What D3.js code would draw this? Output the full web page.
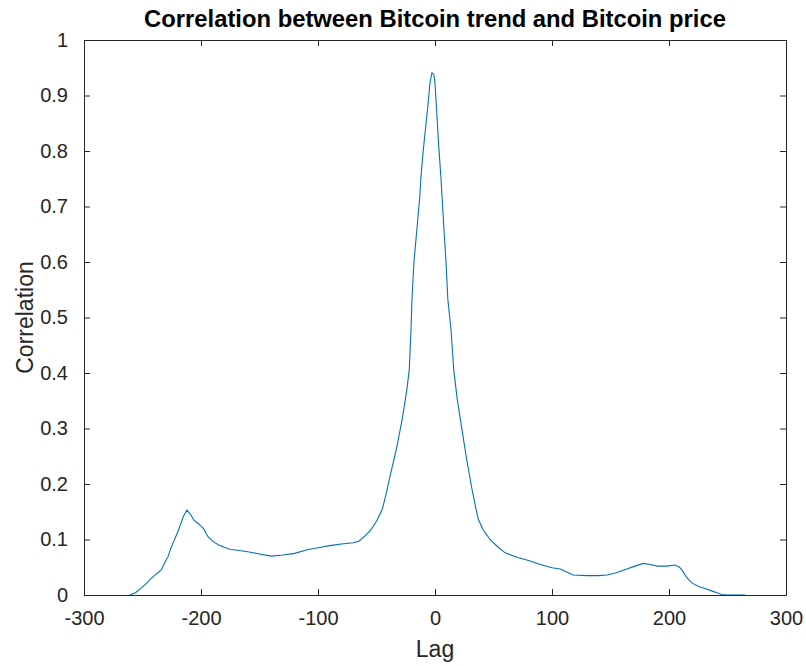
<!DOCTYPE html>
<html>
<head>
<meta charset="utf-8">
<script src="https://cdn.jsdelivr.net/npm/d3@7"></script>
<style>
  body { margin: 0; background: #fff; }
  text { font-family: "Liberation Sans", Arial, sans-serif; }
</style>
</head>
<body>
<svg width="806" height="666"></svg>
<script>
// lag values
const lags = [
  -261, -256, -252, -247, -243, -238, -234, -231, -228, -226, -223, -220, -217, -215, -212,
  -209, -206, -202, -198, -194, -190, -185, -180, -175, -170, -160, -150, -140, -130, -120,
  -110, -100, -90, -80, -70, -65, -60, -55, -50, -45, -42, -39, -36, -33, -28, -24, -22,
  -20.5, -19.7, -18, -15.5, -13, -12, -10, -8.5, -6, -4.3, -2.6, -1, 0, 1.7, 3.4, 5, 6,
  7.7, 9.4, 11, 13.7, 16, 19, 23, 27, 31.6, 35, 37, 41, 47, 54, 60, 70, 80, 90, 100, 107,
  113, 118, 130, 140, 147, 155, 164, 171, 178, 184, 190, 198, 205, 209, 212, 215, 218, 221,
  226, 232, 237, 241, 245, 250, 265
];
// correlation at each lag
const corr = [
  0, 0.004, 0.011, 0.02, 0.029, 0.038, 0.045, 0.058, 0.07, 0.083, 0.098, 0.113, 0.13, 0.142, 0.153,
  0.145, 0.135, 0.128, 0.12, 0.105, 0.097, 0.09, 0.086, 0.082, 0.081, 0.078, 0.074, 0.070, 0.072, 0.075,
  0.081, 0.085, 0.089, 0.092, 0.094, 0.097, 0.106, 0.117, 0.133, 0.155, 0.18, 0.209, 0.236, 0.263, 0.317, 0.371, 0.406,
  0.478, 0.532, 0.60, 0.658, 0.718, 0.754, 0.802, 0.833, 0.883, 0.923, 0.941, 0.938, 0.923, 0.861, 0.802, 0.754, 0.718,
  0.658, 0.60, 0.532, 0.478, 0.406, 0.353, 0.299, 0.245, 0.191, 0.155, 0.137, 0.118, 0.10, 0.086, 0.076, 0.068, 0.062, 0.055, 0.049, 0.047,
  0.041, 0.036, 0.035, 0.035, 0.036, 0.04, 0.047, 0.052, 0.057, 0.055, 0.052, 0.052, 0.054, 0.05, 0.042, 0.032, 0.025, 0.02,
  0.015, 0.011, 0.007, 0.004, 0.001, 0, 0
];
const xTicks = [-300, -200, -100, 0, 100, 200, 300];
const yTicks = [0, 0.1, 0.2, 0.3, 0.4, 0.5, 0.6, 0.7, 0.8, 0.9, 1];

const m = { left: 84, right: 786, top: 40, bottom: 595 };
const axisColor = "#262626";
const tickLen = 6;

const svg = d3.select("svg");

const x = d3.scaleLinear().domain([-300, 300]).range([m.left, m.right]);
const y = d3.scaleLinear().domain([0, 1]).range([m.bottom, m.top]);

const data = lags.map((l, i) => ({ lag: l, value: corr[i] }));

// the curve
const line = d3.line().x(d => x(d.lag)).y(d => y(d.value));
svg.append("path")
  .datum(data)
  .attr("fill", "none")
  .attr("stroke", "#0072BD")
  .attr("stroke-width", 1.1)
  .attr("d", line);

// axes, ticks point inward, box all round
function styleAxis(g) {
  g.select(".domain").attr("stroke", axisColor).attr("stroke-width", 1);
  g.selectAll(".tick line").attr("stroke", axisColor);
  g.selectAll(".tick text").attr("fill", axisColor)
    .style("font-family", '"Liberation Sans", Arial, sans-serif')
    .style("font-size", "20px");
}

// plain hyphen for negatives, like the original
const plain = d => String(d);

svg.append("g")
  .attr("transform", `translate(0,${m.bottom})`)
  .call(d3.axisBottom(x).tickValues(xTicks).tickSizeInner(-tickLen).tickSizeOuter(0).tickPadding(16).tickFormat(plain))
  .call(styleAxis);

svg.append("g")
  .attr("transform", `translate(0,${m.top})`)
  .call(d3.axisTop(x).tickValues(xTicks).tickSizeInner(-tickLen).tickSizeOuter(0).tickFormat(""))
  .call(styleAxis);

svg.append("g")
  .attr("transform", `translate(${m.left},0)`)
  .call(d3.axisLeft(y).tickValues(yTicks).tickSizeInner(-tickLen).tickSizeOuter(0).tickPadding(16).tickFormat(plain))
  .call(styleAxis);

svg.append("g")
  .attr("transform", `translate(${m.right},0)`)
  .call(d3.axisRight(y).tickValues(yTicks).tickSizeInner(-tickLen).tickSizeOuter(0).tickFormat(""))
  .call(styleAxis);

// labels
svg.append("text")
  .attr("x", (m.left + m.right) / 2)
  .attr("y", 27)
  .attr("text-anchor", "middle")
  .attr("font-weight", "bold")
  .attr("font-size", 23.8)
  .attr("fill", "#000")
  .text("Correlation between Bitcoin trend and Bitcoin price");

svg.append("text")
  .attr("x", (m.left + m.right) / 2)
  .attr("y", 657)
  .attr("text-anchor", "middle")
  .attr("font-size", 23)
  .attr("fill", axisColor)
  .text("Lag");

svg.append("text")
  .attr("transform", `translate(33,${(m.top + m.bottom) / 2}) rotate(-90)`)
  .attr("text-anchor", "middle")
  .attr("font-size", 23)
  .attr("fill", axisColor)
  .text("Correlation");
</script>
</body>
</html>
